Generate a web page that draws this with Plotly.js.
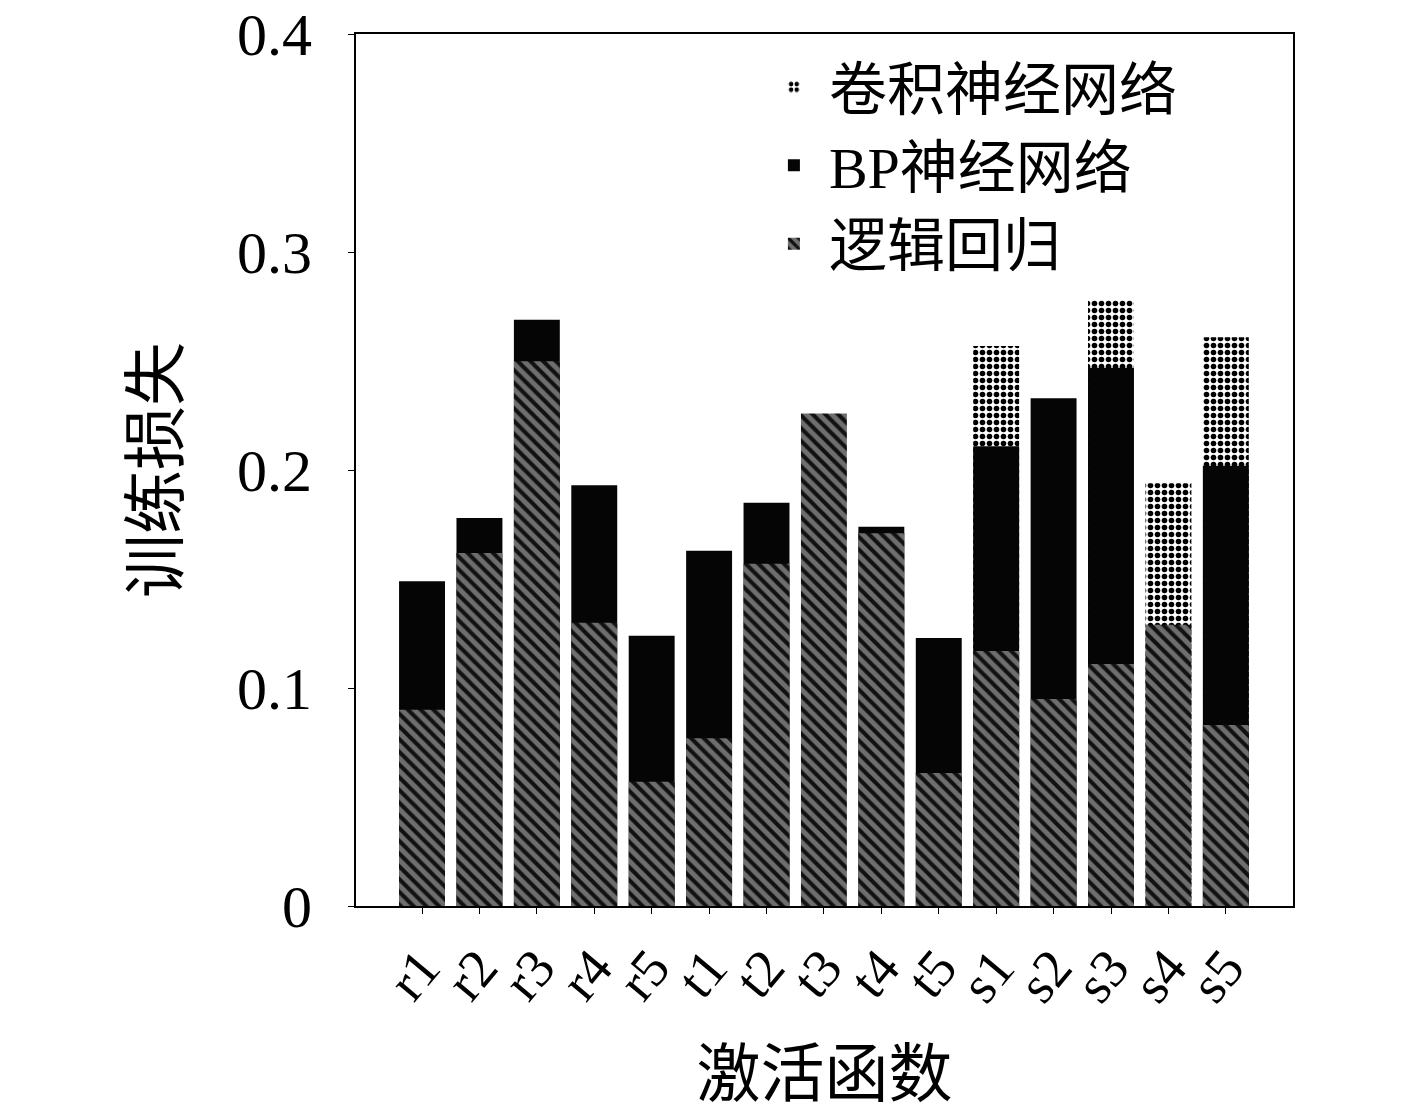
<!doctype html>
<html lang="zh">
<head>
    <meta charset="UTF-8">
    <title>训练损失</title>
    <script src="https://cdn.plot.ly/plotly-3.0.1.min.js"></script>
    <style>
        body { margin: 0; background: #ffffff; }
        #chart { width: 1417px; height: 1110px; }
    </style>
</head>
<body>
    <div id="chart"></div>
    <script>
        // activation functions
        var categories = ['r1', 'r2', 'r3', 'r4', 'r5', 't1', 't2', 't3', 't4', 't5', 's1', 's2', 's3', 's4', 's5'];

        // training loss (null = hidden behind a taller bar)
        var cnnLoss = [null, null, null, null, null, null, null, null, null, null, 0.257, null, 0.278, 0.194, 0.261];
        var bpLoss = [0.149, 0.178, 0.269, 0.193, 0.124, 0.163, 0.185, null, 0.174, 0.123, 0.211, 0.233, 0.247, null, 0.202];
        var lrLoss = [0.090, 0.162, 0.250, 0.130, 0.057, 0.077, 0.157, 0.226, 0.171, 0.061, 0.117, 0.095, 0.111, 0.129, 0.083];

        var seriesNames = ['卷积神经网络', 'BP神经网络', '逻辑回归'];
        var yTicks = [0, 0.1, 0.2, 0.3, 0.4];

        var fontFam = '"Liberation Serif", "Noto Sans CJK SC", serif';

        var traces = [
            {
                type: 'bar', name: seriesNames[0], x: categories, y: cnnLoss,
                marker: {
                    color: '#ffffff',
                    pattern: { shape: '.', fgcolor: '#000000', bgcolor: '#ffffff', size: 7, solidity: 0.5 }
                }
            },
            {
                type: 'bar', name: seriesNames[1], x: categories, y: bpLoss,
                marker: { color: '#050505' }
            },
            {
                type: 'bar', name: seriesNames[2], x: categories, y: lrLoss,
                marker: {
                    color: '#666666',
                    pattern: { shape: '\\', fgcolor: '#111111', bgcolor: '#6e6e6e', size: 9, solidity: 0.45 }
                }
            }
        ];

        var layout = {
            width: 1417,
            height: 1110,
            margin: { l: 356, r: 124, t: 34, b: 204 },
            paper_bgcolor: '#ffffff',
            plot_bgcolor: '#ffffff',
            barmode: 'overlay',
            bargap: 0.2,
            font: { family: fontFam, color: '#000000', size: 60 },
            showlegend: true,
            legend: {
                x: 0.43, y: 0.99, xanchor: 'left', yanchor: 'top',
                bgcolor: 'rgba(0,0,0,0)',
                font: { size: 58, family: fontFam },
                itemwidth: 60,
                tracegroupgap: 0
            },
            xaxis: {
                type: 'category',
                range: [-1.15, 15.17],
                tickmode: 'array',
                tickvals: categories,
                ticktext: categories,
                showline: true, linecolor: '#000000', linewidth: 2, mirror: true,
                ticks: 'outside', ticklen: 6, tickcolor: '#000000',
                tickangle: -50,
                tickfont: { size: 54, family: fontFam },
                showgrid: false, zeroline: false,
                title: { text: '激活函数', font: { size: 64, family: fontFam }, standoff: 40 }
            },
            yaxis: {
                range: [0, 0.4001],
                tickmode: 'array',
                tickvals: yTicks,
                ticktext: yTicks.map(function (v) { return String(v); }),
                showline: true, linecolor: '#000000', linewidth: 2, mirror: true,
                ticks: 'outside', ticklen: 6, tickcolor: '#000000',
                ticklabelstandoff: 24,
                ticklabeloverflow: 'allow',
                tickfont: { size: 60, family: fontFam },
                showgrid: false, zeroline: false,
                title: { text: '训练损失', font: { size: 64, family: fontFam }, standoff: 38 }
            }
        };

        Plotly.newPlot('chart', traces, layout, { displayModeBar: false, staticPlot: true });
    </script>
</body>
</html>
